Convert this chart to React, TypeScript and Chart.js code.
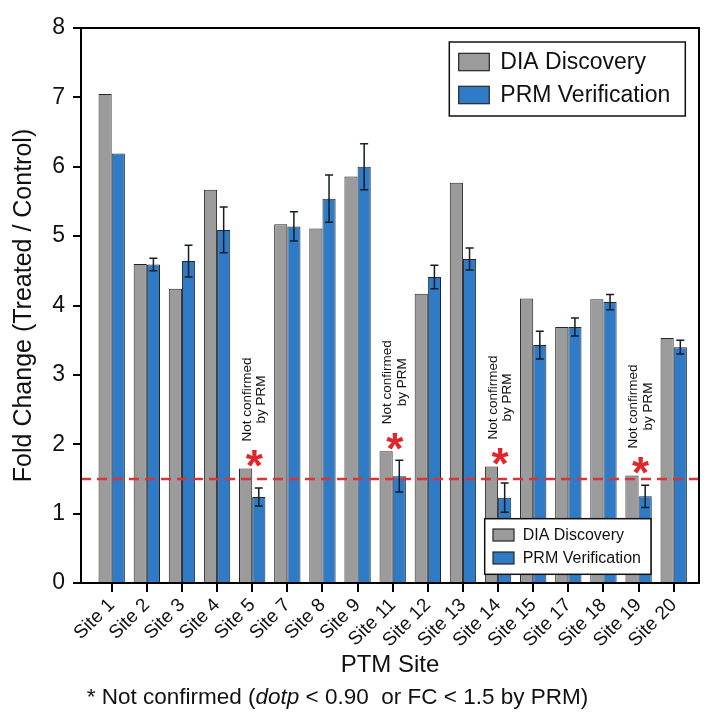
import React, { useEffect, useRef } from "react";
import { Chart, registerables } from "chart.js";

Chart.register(...registerables);

// ---- data ----
const sites = [
  "Site 1", "Site 2", "Site 3", "Site 4", "Site 5", "Site 7", "Site 8", "Site 9",
  "Site 11", "Site 12", "Site 13", "Site 14", "Site 15", "Site 17", "Site 18", "Site 19", "Site 20",
];
const diaFoldChange = [7.05, 4.6, 4.24, 5.67, 1.65, 5.17, 5.11, 5.86, 1.9, 4.17, 5.77, 1.68, 4.1, 3.69, 4.09, 1.55, 3.53];
const prmFoldChange = [6.19, 4.59, 4.64, 5.09, 1.24, 5.14, 5.54, 6.0, 1.54, 4.41, 4.67, 1.23, 3.43, 3.69, 4.05, 1.25, 3.4];
const prmError = [0, 0.09, 0.23, 0.33, 0.13, 0.21, 0.34, 0.33, 0.23, 0.17, 0.16, 0.21, 0.2, 0.13, 0.11, 0.16, 0.1];
const notConfirmedSites = ["Site 5", "Site 11", "Site 14", "Site 19"];
const fcThreshold = 1.5;
const yTickValues = [0, 1, 2, 3, 4, 5, 6, 7, 8];
const seriesNames = ["DIA Discovery", "PRM Verification"];
const flagLines = ["Not confirmed", "by PRM"];

const FONT = '"Liberation Sans", Arial, Helvetica, sans-serif';
const GRAY = "#9b9b9b";
const BLUE = "#2f7bc5";
const EDGE = "#262626";

type LegendStyle = {
  right: number; // distance from chart area right edge
  top?: number; // distance from chart area top
  bottom?: number; // distance from chart area bottom
  width: number;
  height: number;
  swatchX: number;
  swatchW: number;
  swatchH: number;
  rowY: number; // first row center, from box top
  rowGap: number;
  textX: number;
  fontSize: number;
};

function drawLegend(chart: any, s: LegendStyle) {
  const { ctx, chartArea: a } = chart;
  const bx = a.right - s.right - s.width;
  const by = s.top !== undefined ? a.top + s.top : a.bottom - (s.bottom as number) - s.height;
  ctx.save();
  ctx.fillStyle = "#ffffff";
  ctx.fillRect(bx, by, s.width, s.height);
  ctx.strokeStyle = "#111111";
  ctx.lineWidth = 1.5;
  ctx.strokeRect(bx, by, s.width, s.height);
  chart.data.datasets.forEach((ds: any, k: number) => {
    const cy = by + s.rowY + k * s.rowGap;
    ctx.fillStyle = ds.backgroundColor;
    ctx.fillRect(bx + s.swatchX, cy - s.swatchH / 2, s.swatchW, s.swatchH);
    ctx.strokeStyle = EDGE;
    ctx.lineWidth = 1.2;
    ctx.strokeRect(bx + s.swatchX, cy - s.swatchH / 2, s.swatchW, s.swatchH);
    ctx.fillStyle = "#111111";
    ctx.font = `${s.fontSize}px ${FONT}`;
    ctx.textAlign = "left";
    ctx.textBaseline = "middle";
    ctx.fillText(ds.label, bx + s.textX, cy + 1);
  });
  ctx.restore();
}

const overlays = {
  id: "overlays",
  afterDatasetsDraw(chart: any) {
    const { ctx, chartArea: a, scales } = chart;
    const x = scales.x;
    const y = scales.y;
    ctx.save();

    // error bars on the PRM series
    const prmMeta = chart.getDatasetMeta(1);
    ctx.strokeStyle = "#141c28";
    ctx.lineWidth = 1.5;
    prmMeta.data.forEach((bar: any, i: number) => {
      const e = prmError[i];
      if (!e) return;
      const cx = bar.x;
      const hi = y.getPixelForValue(prmFoldChange[i] + e);
      const lo = y.getPixelForValue(prmFoldChange[i] - e);
      ctx.beginPath();
      ctx.moveTo(cx, hi);
      ctx.lineTo(cx, lo);
      ctx.moveTo(cx - 4, hi);
      ctx.lineTo(cx + 4, hi);
      ctx.moveTo(cx - 4, lo);
      ctx.lineTo(cx + 4, lo);
      ctx.stroke();
    });

    // fold-change threshold
    const ty = y.getPixelForValue(fcThreshold);
    ctx.setLineDash([10, 6]);
    ctx.strokeStyle = "#d8343a";
    ctx.lineWidth = 2.5;
    ctx.beginPath();
    ctx.moveTo(a.left, ty);
    ctx.lineTo(a.right, ty);
    ctx.stroke();
    ctx.setLineDash([]);

    // flags for sites not confirmed by PRM
    notConfirmedSites.forEach((site) => {
      const i = sites.indexOf(site);
      const cx = x.getPixelForValue(i) + 2;
      const starY = y.getPixelForValue(diaFoldChange[i]) - 13;
      ctx.fillStyle = "#e0262b";
      ctx.font = `bold 44px ${FONT}`;
      ctx.textAlign = "center";
      ctx.textBaseline = "alphabetic";
      ctx.fillText("*", cx, starY + 0.58 * 44);

      ctx.fillStyle = "#111111";
      ctx.font = `13.5px ${FONT}`;
      const longest = Math.max(...flagLines.map((l) => ctx.measureText(l).width));
      const midY = starY - 14 - longest / 2;
      ctx.save();
      ctx.translate(cx, midY);
      ctx.rotate(-Math.PI / 2);
      ctx.textAlign = "center";
      ctx.textBaseline = "middle";
      ctx.fillText(flagLines[0], 0, -7.2);
      ctx.fillText(flagLines[1], 0, 7.2);
      ctx.restore();
    });

    // plot frame
    ctx.strokeStyle = "#000000";
    ctx.lineWidth = 2;
    ctx.strokeRect(a.left, a.top, a.right - a.left, a.bottom - a.top);
    ctx.restore();

    // legends
    drawLegend(chart, {
      right: 13.7, top: 14, width: 236, height: 74,
      swatchX: 9.4, swatchW: 30.6, swatchH: 17.4, rowY: 20, rowGap: 33, textX: 51, fontSize: 23,
    });
    drawLegend(chart, {
      right: 48, bottom: 8.7, width: 166.3, height: 55.6,
      swatchX: 8.3, swatchW: 21, swatchH: 12, rowY: 16.3, rowGap: 23, textX: 38, fontSize: 16,
    });
  },
  afterDraw(chart: any) {
    // footnote with italic "dotp"
    const { ctx } = chart;
    const size = 22.5;
    const parts: [string, boolean][] = [
      ["* Not confirmed (", false],
      ["dotp", true],
      [" < 0.90  or FC < 1.5 by PRM)", false],
    ];
    ctx.save();
    ctx.fillStyle = "#111111";
    ctx.textBaseline = "middle";
    ctx.textAlign = "left";
    const widths = parts.map(([t, it]) => {
      ctx.font = `${it ? "italic " : ""}${size}px ${FONT}`;
      return ctx.measureText(t).width;
    });
    const total = widths.reduce((p, c) => p + c, 0);
    let px = 337.5 - total / 2;
    parts.forEach(([t, it], k) => {
      ctx.font = `${it ? "italic " : ""}${size}px ${FONT}`;
      ctx.fillText(t, px, 698);
      px += widths[k];
    });
    ctx.restore();
  },
};

export default function App() {
  const canvasRef = useRef<HTMLCanvasElement | null>(null);

  useEffect(() => {
    document.body.style.margin = "0";
    const canvas = canvasRef.current;
    if (!canvas) return;

    const chart = new Chart(canvas, {
      type: "bar",
      data: {
        datasets: [
          {
            label: seriesNames[0],
            data: diaFoldChange.map((v, i) => ({ x: i, y: v })),
            backgroundColor: GRAY,
            borderColor: EDGE,
            borderWidth: 1,
          },
          {
            label: seriesNames[1],
            data: prmFoldChange.map((v, i) => ({ x: i, y: v })),
            backgroundColor: BLUE,
            borderColor: EDGE,
            borderWidth: 1,
          },
        ],
      },
      options: {
        responsive: false,
        animation: false,
        devicePixelRatio: 1,
        layout: { padding: { top: 28, right: 18, left: 0, bottom: 0 } },
        datasets: { bar: { categoryPercentage: 0.75, barPercentage: 1 } },
        plugins: {
          legend: { display: false },
          tooltip: { enabled: false },
        },
        scales: {
          x: {
            type: "linear",
            min: -0.874,
            max: 16.72,
            offset: false,
            afterBuildTicks: (s: any) => {
              s.ticks = sites.map((_, i) => ({ value: i }));
            },
            afterFit: (s: any) => {
              s.height = 134;
            },
            ticks: {
              autoSkip: false,
              minRotation: 45,
              maxRotation: 45,
              padding: 2,
              color: "#111111",
              font: { family: FONT, size: 19 },
              callback: (v: any) => sites[v as number] ?? "",
            },
            grid: {
              offset: false,
              drawOnChartArea: false,
              drawTicks: true,
              tickLength: 9,
              lineWidth: 2,
              color: "#000000",
            },
            border: { display: false },
            title: {
              display: true,
              text: "PTM Site",
              color: "#111111",
              font: { family: FONT, size: 24 },
              padding: { top: 0, bottom: 37.6 },
            },
          },
          y: {
            min: 0,
            max: 8,
            afterBuildTicks: (s: any) => {
              s.ticks = yTickValues.map((v) => ({ value: v }));
            },
            afterFit: (s: any) => {
              s.width = 81;
            },
            ticks: {
              padding: 8,
              color: "#111111",
              font: { family: FONT, size: 23 },
            },
            grid: { drawOnChartArea: false, drawTicks: true, tickLength: 8, lineWidth: 2, color: "#000000" },
            border: { display: false },
            title: {
              display: true,
              text: "Fold Change (Treated / Control)",
              color: "#111111",
              font: { family: FONT, size: 25 },
              padding: { top: 9, bottom: 0 },
            },
          },
        },
      },
      plugins: [overlays],
    } as any);

    return () => chart.destroy();
  }, []);

  return (
    <canvas
      ref={canvasRef}
      width={717}
      height={717}
      style={{ display: "block", width: 717, height: 717 }}
    />
  );
}
